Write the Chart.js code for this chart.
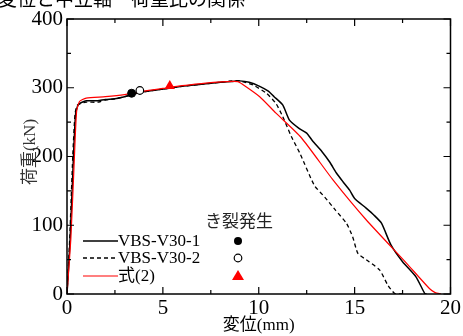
<!DOCTYPE html>
<html><head><meta charset="utf-8">
<script src="https://cdn.jsdelivr.net/npm/chart.js@4.4.1/dist/chart.umd.min.js"></script>
<style>html,body{margin:0;padding:0;background:#fff}#w{width:463px;height:336px;position:relative}</style>
</head><body><div id="w"><canvas id="c"></canvas></div>
<script>
// ---- data ----
const titleText = "変位と中立軸－荷重比の関係";
const xTitle = "変位(mm)";
const yTitle = "荷重(kN)";
const legendHeader = "き裂発生";
const seriesLabels = ["VBS-V30-1", "VBS-V30-2", "式(2)"];

const v1x = [0,0.16,0.33,0.45,0.6,1.0,1.6,2.0,2.5,3.0,3.4,4.0,5.0,6.0,7.0,8.0,8.6,9.0,9.5,10.05,10.5,10.8,11.25,11.6,12.1,12.5,12.8,13.3,13.7,14.05,14.4,14.74,15.0,15.6,16.0,16.4,16.9,17.5,18.2,18.65,18.75];
const v1y = [0,78,195,262,276,281,281,283,284,287,290,294,298,302,305,308,309,310,308,302,295,287,275,253,241,234,223,207,192,176,163,151,139,125,115,103,71,47,25,1,0];

const v2x = [0,0.14,0.3,0.42,0.55,1.0,1.6,2.0,2.5,3.0,3.5,4.0,5.0,6.0,7.0,8.0,8.6,9.0,9.7,10.4,10.9,11.25,11.7,12.14,12.9,13.44,14.0,14.57,14.9,15.17,15.6,16.3,16.73,17.08,17.5];
const v2y = [0,80,200,262,275,279,279,282,284,287,291,294,298,302,305,308,310,310,304,292,277,258,229,205,158,141,122,103,83,59,50,35,13,1,0];

const v3x = [0,0.2,0.38,0.5,0.65,1.0,2.0,3.0,4.0,5.0,6.0,7.0,8.0,8.9,9.1,10.05,10.9,12.2,13.87,15.6,17.7,18.9,19.2,19.5];
const v3y = [0,80,195,265,280,285,287,290,295,299,303,306,308.5,309,306,287,263,228,166,108,45,8,2,0];

const crackX = [3.37, 3.8, 5.36];
const crackY = [292, 296, 302.5];

const xTicksMajor = [0,5,10,15,20];
const yTicksMajor = [0,100,200,300,400];

// ---- chart ----
const serif = '"Liberation Serif","Noto Sans CJK JP",serif';
const pts = (xs, ys) => xs.map((x,i)=>({x, y: ys[i]}));

const frame = {
  id:'frame',
  afterDraw(chart){
    const {ctx, chartArea:a, scales:{x, y}} = chart;
    ctx.save();
    ctx.strokeStyle = '#000';
    ctx.lineWidth = 1.5;
    ctx.strokeRect(a.left, a.top, a.right-a.left, a.bottom-a.top);
    ctx.lineWidth = 1.2;
    ctx.beginPath();
    x.ticks.forEach(t=>{
      const p = x.getPixelForValue(t.value);
      const L = xTicksMajor.includes(t.value) ? 7 : 4;
      ctx.moveTo(p, a.bottom); ctx.lineTo(p, a.bottom-L);
      ctx.moveTo(p, a.top); ctx.lineTo(p, a.top+L);
    });
    y.ticks.forEach(t=>{
      const p = y.getPixelForValue(t.value);
      const L = yTicksMajor.includes(t.value) ? 7 : 4;
      ctx.moveTo(a.left, p); ctx.lineTo(a.left+L, p);
      ctx.moveTo(a.right, p); ctx.lineTo(a.right-L, p);
    });
    ctx.stroke();

    // title (cut at top)
    ctx.fillStyle = '#000';
    ctx.font = '19px ' + serif;
    ctx.textAlign = 'left';
    ctx.textBaseline = 'alphabetic';
    ctx.fillText(titleText, -2, 6);

    // axis titles
    ctx.font = '17px ' + serif;
    ctx.textAlign = 'center';
    ctx.textBaseline = 'middle';
    ctx.fillText(xTitle, (a.left+a.right)/2, 326);
    ctx.save();
    ctx.translate(31, 152);
    ctx.rotate(-Math.PI/2);
    ctx.fillStyle = '#333';
    ctx.fillText(yTitle, 0, 0);
    ctx.restore();

    // legend
    const rows = [241, 258, 276];
    const ds = chart.data.datasets;
    ctx.font = '17px ' + serif;
    ctx.textAlign = 'left';
    ctx.textBaseline = 'middle';
    for (let i=0;i<3;i++){
      const d = ds[i];
      ctx.beginPath();
      ctx.strokeStyle = d.borderColor;
      ctx.lineWidth = d.borderWidth;
      ctx.setLineDash(d.borderDash || []);
      ctx.moveTo(83, rows[i]); ctx.lineTo(118, rows[i]);
      ctx.stroke();
      ctx.setLineDash([]);
      ctx.fillStyle = '#000';
      ctx.fillText(d.label, 118, rows[i]+1);
    }
    ctx.textAlign = 'center';
    ctx.fillStyle = '#222';
    ctx.fillText(legendHeader, 239, 223);
    // legend markers
    ctx.fillStyle = '#000';
    ctx.beginPath(); ctx.arc(238, rows[0], 4, 0, Math.PI*2); ctx.fill();
    ctx.beginPath(); ctx.strokeStyle='#000'; ctx.lineWidth=1.2; ctx.arc(238, rows[1], 3.8, 0, Math.PI*2); ctx.fillStyle='#fff'; ctx.fill(); ctx.stroke();
    ctx.beginPath(); ctx.fillStyle='#f00';
    ctx.moveTo(238, rows[2]-6); ctx.lineTo(244, rows[2]+4); ctx.lineTo(232, rows[2]+4); ctx.closePath(); ctx.fill();
    ctx.restore();
  }
};

new Chart(document.getElementById('c'), {
  type: 'scatter',
  data: {
    datasets: [
      {label: seriesLabels[0], data: pts(v1x, v1y), showLine: true, borderColor: '#000', borderWidth: 1.5, pointRadius: 0, tension: 0.2, order: 2},
      {label: seriesLabels[1], data: pts(v2x, v2y), showLine: true, borderColor: '#000', borderWidth: 1.3, borderDash: [4,3], pointRadius: 0, tension: 0.2, order: 3},
      {label: seriesLabels[2], data: pts(v3x, v3y), showLine: true, borderColor: '#f00', borderWidth: 1.2, pointRadius: 0, tension: 0.2, order: 1},
      {label: 'c1', data: [{x: crackX[0], y: crackY[0]}], pointRadius: 4, backgroundColor: '#000', borderColor: '#000', pointStyle: 'circle', order: 0},
      {label: 'c2', data: [{x: crackX[1], y: crackY[1]}], pointRadius: 3.8, backgroundColor: '#fff', borderColor: '#000', borderWidth: 1.2, pointStyle: 'circle', order: 0},
      {label: 'c3', data: [{x: crackX[2], y: crackY[2]}], pointRadius: 6, backgroundColor: '#f00', borderColor: '#f00', borderWidth: 0, pointStyle: 'triangle', order: 0}
    ]
  },
  options: {
    responsive: true, maintainAspectRatio: false, animation: false,
    layout: {padding: {top: 19, right: 12, left: 0, bottom: 0}},
    plugins: {legend: {display: false}, tooltip: {enabled: false}},
    scales: {
      x: {type: 'linear', min: 0, max: 20,
        grid: {display: false, drawTicks: false}, border: {display: false},
        ticks: {stepSize: 2.5, padding: 2, color: '#000', maxRotation: 0, autoSkip: false,
          font: {family: serif, size: 21},
          callback: v => xTicksMajor.includes(v) ? String(v) : ''},
        afterFit: s => { s.height = 42; }
      },
      y: {type: 'linear', min: 0, max: 400,
        grid: {display: false, drawTicks: false}, border: {display: false},
        ticks: {stepSize: 50, padding: 4, color: '#000', autoSkip: false,
          font: {family: serif, size: 21},
          callback: v => yTicksMajor.includes(v) ? String(v) : ''},
        afterFit: s => { s.width = 67; }
      }
    }
  },
  plugins: [frame]
});
</script></body></html>
